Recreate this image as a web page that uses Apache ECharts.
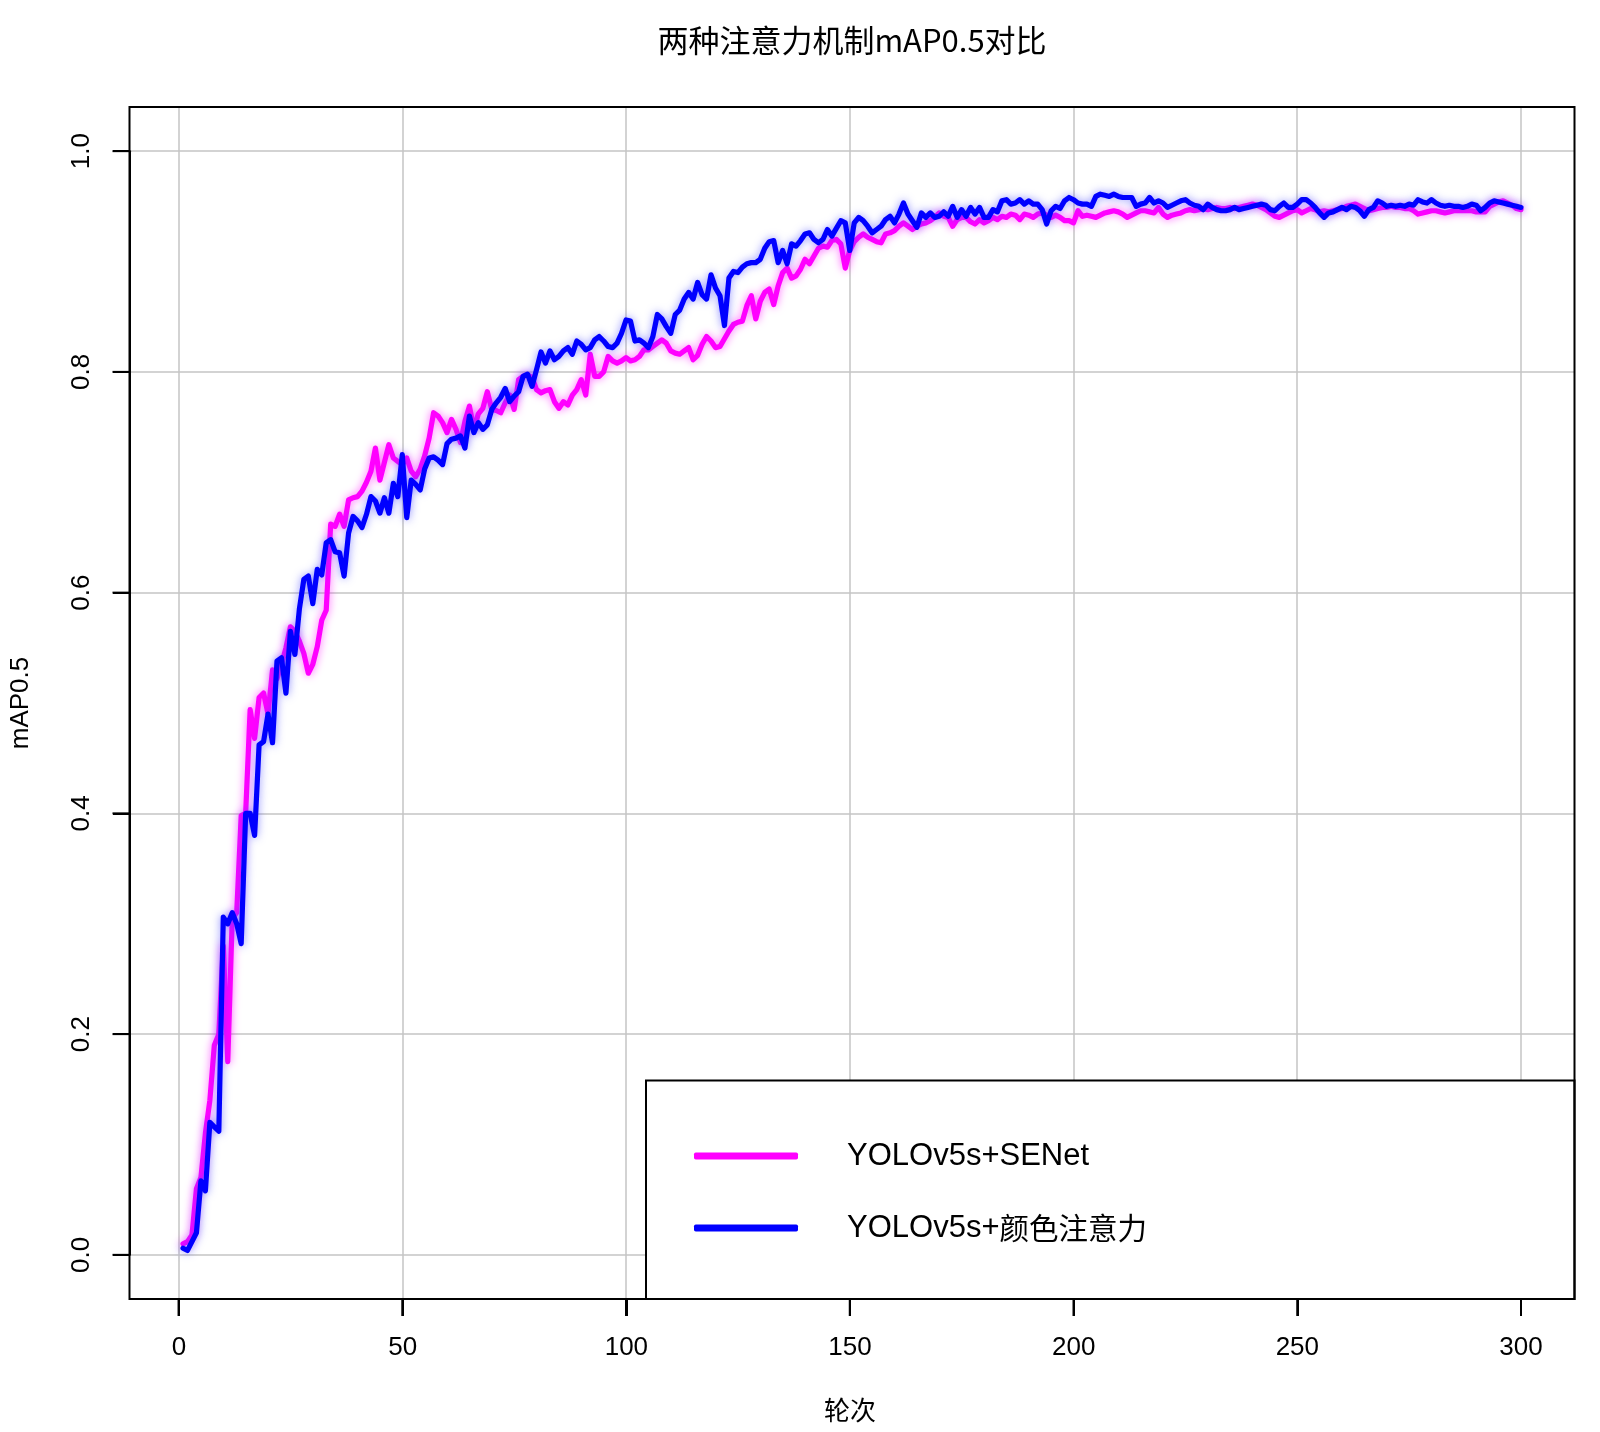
<!DOCTYPE html>
<html><head><meta charset="utf-8">
<script src="https://cdn.jsdelivr.net/npm/echarts@6/dist/echarts.min.js"></script>
<style>html,body{margin:0;padding:0;background:#fff}#chart{width:1600px;height:1432px}</style>
</head><body><div id="chart"></div>
<script>
const chartTitle = '两种注意力机制mAP0.5对比';
const xAxisName = '轮次';
const yAxisName = 'mAP0.5';
const seriesNames = ['YOLOv5s+SENet', 'YOLOv5s+颜色注意力'];
const xTicks = [0, 50, 100, 150, 200, 250, 300];
const yTicks = [0, 0.2, 0.4, 0.6, 0.8, 1.0];

const senet = [
 .010,.012,.018,.060,.070,.110,.140,.190,.200,.280,
 .175,.305,.310,.398,.400,.494,.468,.505,.509,.490,
 .530,.522,.535,.550,.569,.565,.556,.545,.527,.535,
 .551,.575,.584,.662,.660,.671,.660,.684,.686,.687,
 .692,.700,.710,.731,.702,.718,.734,.722,.719,.716,
 .722,.710,.705,.712,.724,.740,.763,.760,.754,.745,
 .757,.748,.736,.755,.769,.748,.762,.767,.782,.766,
 .765,.763,.772,.779,.766,.793,.796,.797,.795,.784,
 .781,.783,.784,.773,.767,.773,.770,.779,.784,.793,
 .779,.816,.796,.796,.800,.814,.810,.808,.810,.813,
 .810,.811,.814,.820,.820,.823,.826,.829,.826,.819,
 .817,.816,.819,.822,.811,.815,.825,.832,.828,.822,
 .823,.830,.837,.843,.845,.846,.860,.869,.848,.864,
 .872,.875,.861,.878,.890,.894,.885,.887,.893,.902,
 .898,.905,.912,.914,.913,.919,.920,.916,.894,.910,
 .918,.922,.925,.922,.920,.918,.917,.925,.926,.928,
 .932,.935,.932,.929,.932,.934,.935,.937,.940,.944,
 .941,.940,.932,.938,.940,.940,.936,.934,.938,.935,
 .937,.940,.938,.941,.940,.943,.942,.938,.943,.942,
 .940,.943,.944,.942,.940,.942,.940,.937,.937,.935,
 .946,.941,.942,.941,.940,.942,.944,.945,.946,.945,
 .943,.940,.942,.944,.946,.946,.945,.944,.949,.943,
 .940,.942,.943,.944,.946,.947,.946,.947,.948,.947,
 .948,.949,.948,.948,.949,.948,.949,.950,.951,.952,
 .951,.949,.947,.944,.941,.940,.942,.944,.946,.947,
 .944,.946,.948,.947,.945,.946,.945,.946,.947,.948,
 .950,.951,.952,.950,.948,.946,.947,.948,.949,.949,
 .950,.949,.949,.948,.948,.946,.943,.944,.945,.946,
 .946,.945,.944,.945,.946,.946,.946,.946,.946,.945,
 .945,.945,.950,.952,.954,.955,.953,.951,.948,.947
];

const colorAtt = [
 .006,.004,.012,.020,.067,.058,.120,.116,.112,.306,
 .300,.310,.300,.282,.400,.400,.380,.462,.465,.490,
 .464,.538,.541,.509,.565,.544,.585,.612,.615,.590,
 .621,.616,.645,.648,.637,.636,.615,.654,.669,.665,
 .659,.671,.687,.683,.672,.686,.672,.699,.687,.725,
 .668,.702,.698,.693,.712,.722,.723,.720,.716,.735,
 .739,.740,.742,.731,.760,.745,.754,.748,.752,.766,
 .772,.777,.785,.773,.778,.782,.796,.798,.787,.802,
 .818,.808,.819,.811,.814,.819,.822,.816,.828,.825,
 .820,.822,.829,.832,.828,.823,.822,.826,.835,.847,
 .846,.828,.829,.826,.822,.832,.852,.848,.841,.835,
 .852,.856,.866,.872,.866,.881,.870,.866,.888,.876,
 .869,.842,.885,.891,.890,.895,.898,.899,.899,.902,
 .912,.918,.919,.899,.910,.898,.916,.914,.919,.925,
 .926,.920,.917,.920,.929,.923,.930,.937,.935,.910,
 .935,.940,.937,.932,.926,.929,.932,.938,.941,.935,
 .943,.953,.943,.937,.931,.944,.940,.944,.940,.941,
 .945,.941,.950,.940,.947,.941,.949,.943,.949,.940,
 .940,.947,.945,.955,.956,.952,.953,.956,.952,.955,
 .952,.952,.947,.934,.946,.950,.948,.955,.958,.956,
 .953,.952,.952,.950,.959,.961,.960,.959,.961,.959,
 .958,.958,.958,.950,.952,.953,.958,.953,.955,.953,
 .949,.951,.953,.955,.956,.953,.951,.950,.947,.952,
 .949,.947,.946,.946,.947,.949,.947,.948,.949,.950,
 .951,.952,.951,.947,.946,.950,.953,.949,.949,.952,
 .956,.956,.953,.949,.944,.940,.944,.945,.947,.949,
 .947,.950,.949,.946,.941,.947,.949,.955,.953,.950,
 .951,.950,.951,.950,.952,.951,.956,.954,.953,.956,
 .953,.951,.950,.951,.950,.950,.949,.950,.952,.951,
 .946,.949,.953,.955,.954,.953,.952,.951,.950,.949
];

const epochs = senet.map((_, i) => i + 1);

const latin = 'Liberation Sans, Arial, Noto Sans CJK SC, sans-serif';
const cjk = 'Noto Sans CJK SC, Liberation Sans, sans-serif';

function legendLabel(name) {
  const m = name.match(/^([\x00-\x7f]*)(.*)$/);
  return '{a|' + m[1] + '}' + (m[2] ? '{b|' + m[2] + '}' : '');
}

// plot box (R-style 4% extension around data range)
const box = {left: 129.5, top: 107, width: 1445, height: 1192};
const xMin = -10.96, xMax = 311.96, yMin = -0.04, yMax = 1.04;
const pxX = box.width / (xMax - xMin), pxY = box.height / (yMax - yMin);
const tickGrid = {
  left: box.left + (xTicks[0] - xMin) * pxX,
  width: (xTicks[xTicks.length - 1] - xTicks[0]) * pxX,
  top: box.top + (yMax - yTicks[yTicks.length - 1]) * pxY,
  height: (yTicks[yTicks.length - 1] - yTicks[0]) * pxY
};
const xOffset = (box.top + box.height) - (tickGrid.top + tickGrid.height);
const yOffset = tickGrid.left - box.left;
const tickLen = 17;

const chart = echarts.init(document.getElementById('chart'), null, {renderer: 'canvas'});
chart.setOption({
  animation: false,
  backgroundColor: '#ffffff',
  title: {
    text: chartTitle, left: 852, textAlign: 'center', top: 25, padding: 0,
    textStyle: {fontSize: 31, fontWeight: 'normal', color: '#000', fontFamily: cjk}
  },
  grid: [
    {left: box.left, top: box.top, width: box.width, height: box.height, containLabel: false},
    {left: tickGrid.left, top: tickGrid.top, width: tickGrid.width, height: tickGrid.height, containLabel: false}
  ],
  xAxis: [
    {
      gridIndex: 0, type: 'value', min: xMin, max: xMax,
      axisLine: {show: false, onZero: false},
      axisTick: {show: true, customValues: xTicks, lineStyle: {color: 'rgba(0,0,0,0)'}},
      axisLabel: {show: false},
      splitLine: {show: true, lineStyle: {color: '#c4c4c4', width: 1.5}}
    },
    {
      gridIndex: 1, type: 'value', min: xTicks[0], max: xTicks[xTicks.length - 1], interval: 50,
      position: 'bottom', offset: xOffset,
      name: xAxisName, nameLocation: 'middle', nameGap: 98,
      nameTextStyle: {fontSize: 26, color: '#000', fontFamily: cjk},
      axisLine: {show: true, onZero: false, lineStyle: {color: '#000', width: 2}},
      axisTick: {show: true, length: tickLen, inside: false, lineStyle: {color: '#000', width: 2}},
      axisLabel: {fontSize: 26, color: '#000', margin: 36, fontFamily: latin},
      splitLine: {show: false}
    }
  ],
  yAxis: [
    {
      gridIndex: 0, type: 'value', min: yMin, max: yMax,
      axisLine: {show: false, onZero: false},
      axisTick: {show: true, customValues: yTicks, lineStyle: {color: 'rgba(0,0,0,0)'}},
      axisLabel: {show: false},
      splitLine: {show: true, lineStyle: {color: '#c4c4c4', width: 1.5}}
    },
    {
      gridIndex: 1, type: 'value', min: yTicks[0], max: yTicks[yTicks.length - 1], interval: 0.2,
      position: 'left', offset: yOffset,
      name: yAxisName, nameLocation: 'middle', nameGap: 96,
      nameTextStyle: {fontSize: 26, color: '#000', fontFamily: latin},
      axisLine: {show: true, onZero: false, lineStyle: {color: '#000', width: 2}},
      axisTick: {show: true, length: tickLen, inside: false, lineStyle: {color: '#000', width: 2}},
      axisLabel: {rotate: 90, fontSize: 26, color: '#000', margin: 35, fontFamily: latin,
        formatter: v => Number(v).toFixed(1)},
      splitLine: {show: false}
    }
  ],
  legend: {
    data: seriesNames, orient: 'vertical', left: 694, top: 1138, padding: 0,
    itemWidth: 104, itemHeight: 7, itemGap: 36, icon: 'roundRect',
    formatter: legendLabel,
    textStyle: {color: '#000', lineHeight: 36, padding: [0, 0, 0, 44],
      rich: {
        a: {fontSize: 31, fontFamily: latin, color: '#000', lineHeight: 36},
        b: {fontSize: 29.5, fontFamily: cjk, color: '#000', lineHeight: 36}
      }},
    z: 10
  },
  graphic: [
    {id: 'legendBox', type: 'rect', z: 5, shape: {x: 646, y: 1080.5, width: 928.5, height: 218.5},
     style: {fill: '#ffffff', stroke: '#000', lineWidth: 2}},
    {id: 'plotBox', type: 'rect', z: 6, shape: {x: box.left, y: box.top, width: box.width, height: box.height},
     style: {fill: 'none', stroke: '#000', lineWidth: 2}}
  ],
  series: [
    {
      name: seriesNames[0], type: 'line', xAxisIndex: 0, yAxisIndex: 0,
      symbol: 'none', showSymbol: false, z: 2,
      data: epochs.map((e, i) => [e, senet[i]]),
      itemStyle: {color: '#ff00ff'},
      lineStyle: {color: '#ff00ff', width: 5.2, cap: 'round', join: 'round',
        shadowBlur: 9, shadowColor: 'rgba(255,0,255,0.6)'}
    },
    {
      name: seriesNames[1], type: 'line', xAxisIndex: 0, yAxisIndex: 0,
      symbol: 'none', showSymbol: false, z: 3,
      data: epochs.map((e, i) => [e, colorAtt[i]]),
      itemStyle: {color: '#0000ff'},
      lineStyle: {color: '#0000ff', width: 5.2, cap: 'round', join: 'round',
        shadowBlur: 9, shadowColor: 'rgba(70,70,255,0.6)'}
    }
  ]
});

// outward tick marks on the plot box, placed through the chart's own scales
const boxBottom = box.top + box.height;
const tickMarks = [];
xTicks.forEach((v, i) => {
  const px = chart.convertToPixel({xAxisIndex: 0}, v);
  tickMarks.push({id: 'xt' + i, type: 'rect', z: 100,
    shape: {x: px - 1, y: boxBottom, width: 2, height: tickLen},
    style: {fill: '#000', stroke: null}});
});
yTicks.forEach((v, i) => {
  const py = chart.convertToPixel({yAxisIndex: 0}, v);
  tickMarks.push({id: 'yt' + i, type: 'rect', z: 100,
    shape: {x: box.left - tickLen, y: py - 1, width: tickLen, height: 2},
    style: {fill: '#000', stroke: null}});
});
chart.setOption({graphic: tickMarks});
</script>
</body></html>
